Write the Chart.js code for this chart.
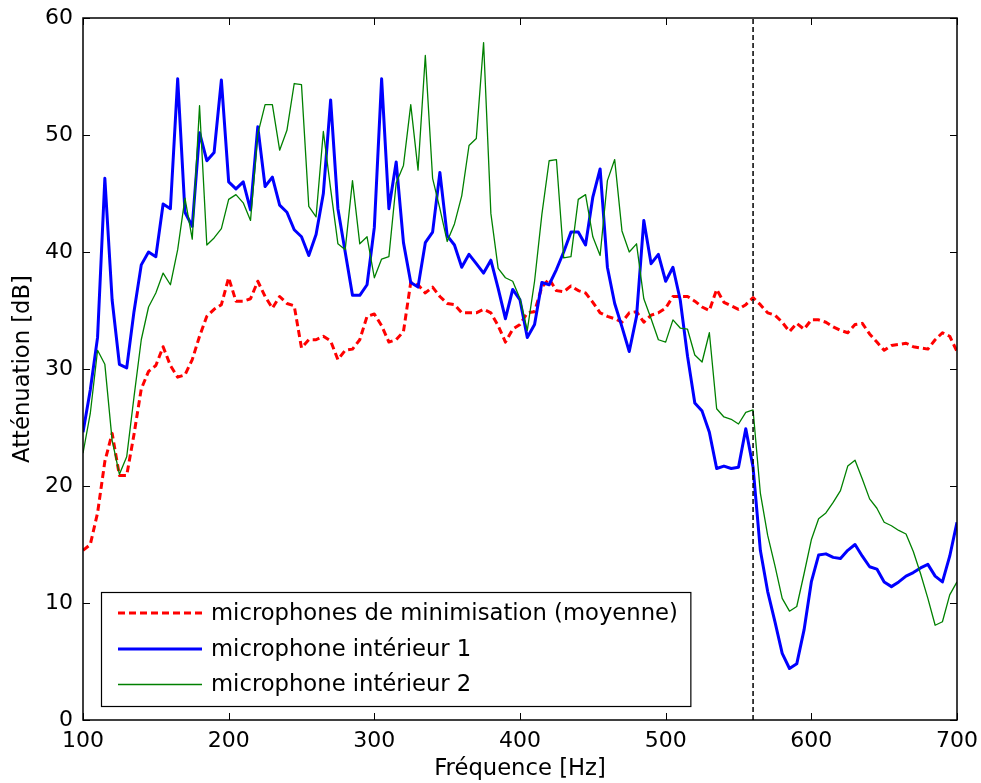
<!DOCTYPE html>
<html>
<head>
<meta charset="utf-8">
<script src="https://cdn.jsdelivr.net/npm/chart.js@4.4.1/dist/chart.umd.min.js"></script>
<style>
  html, body { margin: 0; padding: 0; background: #ffffff; }
  #wrap { width: 981px; height: 783px; position: relative; }
</style>
</head>
<body>
<div id="wrap"><canvas id="c" width="981" height="783"></canvas></div>
<script>
// ---- data ----
const freqs = [100,105,110,115,120,125,130,135,140,145,150,155,160,165,170,175,180,185,190,195,
  200,205,210,215,220,225,230,235,240,245,250,255,260,265,270,275,280,285,290,295,
  300,305,310,315,320,325,330,335,340,345,350,355,360,365,370,375,380,385,390,395,
  400,405,410,415,420,425,430,435,440,445,450,455,460,465,470,475,480,485,490,495,
  500,505,510,515,520,525,530,535,540,545,550,555,560,565,570,575,580,585,590,595,
  600,605,610,615,620,625,630,635,640,645,650,655,660,665,670,675,680,685,690,695,700];

const moyenne = [14.5,15.0,17.7,22.1,24.5,20.9,20.9,24.4,28.3,29.8,30.3,31.9,30.3,29.3,29.5,30.8,32.8,34.5,35.1,35.5,
  37.8,35.8,35.8,36.0,37.5,36.2,35.2,36.2,35.6,35.4,31.8,32.5,32.5,32.8,32.4,30.8,31.6,31.7,32.5,34.5,
  34.7,33.7,32.3,32.5,33.2,37.4,37.2,36.5,37.0,36.2,35.6,35.5,34.8,34.8,34.8,35.1,34.8,33.7,32.3,33.4,
  33.8,34.8,34.9,37.0,37.7,36.7,36.6,37.1,36.7,36.5,35.7,34.8,34.5,34.3,34.0,34.8,34.9,34.0,34.6,34.8,
  35.2,36.2,36.2,36.2,35.8,35.3,35.0,36.8,35.7,35.4,35.1,35.5,36.1,35.5,34.8,34.6,34.0,33.2,33.9,33.4,
  34.2,34.2,34.0,33.6,33.3,33.1,33.8,33.9,33.0,32.3,31.6,32.0,32.1,32.2,31.9,31.8,31.7,32.5,33.1,32.8,31.5];

const interieur1 = [24.6,28.2,32.7,46.3,35.9,30.4,30.1,34.9,38.9,40.0,39.6,44.1,43.7,54.8,43.4,42.2,50.2,47.8,48.5,54.7,
  46.0,45.4,46.0,43.6,50.7,45.6,46.4,44.0,43.4,41.9,41.3,39.7,41.5,45.0,53.0,43.7,40.0,36.3,36.3,37.2,
  42.1,54.8,43.7,47.7,40.8,37.4,37.0,40.8,41.7,46.8,41.4,40.6,38.7,39.8,39.0,38.2,39.3,36.9,34.3,36.8,
  35.9,32.7,33.8,37.4,37.2,38.5,40.0,41.7,41.7,40.6,44.7,47.1,38.7,35.6,33.6,31.5,34.5,42.7,39.0,39.8,
  37.5,38.7,35.9,31.1,27.1,26.4,24.6,21.5,21.7,21.5,21.6,24.9,21.6,14.5,11.0,8.4,5.7,4.4,4.8,7.7,
  11.8,14.1,14.2,13.9,13.8,14.5,15.0,14.0,13.1,12.9,11.8,11.4,11.8,12.3,12.6,13.0,13.3,12.3,11.8,14.0,16.9];

const interieur2 = [22.8,26.2,31.6,30.4,23.9,21.0,22.5,27.6,32.5,35.3,36.5,38.2,37.2,40.2,44.6,41.1,52.5,40.6,41.2,42.0,
  44.5,44.9,44.2,42.7,50.1,52.6,52.6,48.7,50.4,54.4,54.3,43.9,43.0,50.3,45.4,40.7,40.2,46.1,40.7,41.3,
  37.8,39.4,39.6,45.9,47.4,52.6,47.0,56.8,46.3,43.7,40.9,42.4,44.8,49.1,49.7,57.9,43.3,38.6,37.8,37.5,
  36.0,33.3,37.5,43.2,47.8,47.9,39.5,39.6,44.5,44.9,41.3,39.7,46.1,47.9,41.8,40.0,40.7,36.0,34.3,32.5,
  32.3,34.2,33.5,33.4,31.2,30.6,33.1,26.6,25.9,25.7,25.3,26.3,26.5,19.4,15.8,13.2,10.4,9.3,9.7,12.5,
  15.4,17.2,17.7,18.6,19.6,21.7,22.2,20.6,18.9,18.1,16.9,16.6,16.2,15.9,14.4,12.5,10.4,8.1,8.4,10.7,11.8];

const seriesLabels = ["microphones de minimisation (moyenne)", "microphone intérieur 1", "microphone intérieur 2"];
const markerFreq = [560];
const markerRange = [0, 60];
const xTickValues = [100, 200, 300, 400, 500, 600, 700];
const yTickValues = [0, 10, 20, 30, 40, 50, 60];
const xTickLabels = ["100", "200", "300", "400", "500", "600", "700"];
const yTickLabels = ["0", "10", "20", "30", "40", "50", "60"];
const xTitle = "Fréquence [Hz]";
const yTitle = "Atténuation [dB]";

// ---- chart ----
const FONT = "'DejaVu Sans', 'Liberation Sans', sans-serif";
const toXY = (vals) => freqs.map((f, i) => ({ x: f, y: vals[i] }));

const framePlugin = {
  id: 'framePlugin',
  afterDatasetsDraw(chart) {
    const ctx = chart.ctx;
    const a = chart.chartArea;
    const xs = chart.scales.x, ys = chart.scales.y;
    ctx.save();
    // inward ticks on all four sides
    ctx.strokeStyle = '#000';
    ctx.lineWidth = 1;
    const TL = 7;
    xTickValues.forEach(v => {
      const px = Math.round(xs.getPixelForValue(v)) + 0.5;
      ctx.beginPath();
      ctx.moveTo(px, a.bottom); ctx.lineTo(px, a.bottom - TL);
      ctx.moveTo(px, a.top); ctx.lineTo(px, a.top + TL);
      ctx.stroke();
    });
    yTickValues.forEach(v => {
      const py = Math.round(ys.getPixelForValue(v)) + 0.5;
      ctx.beginPath();
      ctx.moveTo(a.left, py); ctx.lineTo(a.left + TL, py);
      ctx.moveTo(a.right, py); ctx.lineTo(a.right - TL, py);
      ctx.stroke();
    });
    // frame
    ctx.lineWidth = 1.5;
    ctx.strokeRect(a.left, a.top, a.right - a.left, a.bottom - a.top);

    // tick labels
    ctx.fillStyle = '#000';
    ctx.font = '22px ' + FONT;
    ctx.textAlign = 'center';
    ctx.textBaseline = 'middle';
    xTickValues.forEach((v, i) => {
      ctx.fillText(xTickLabels[i], xs.getPixelForValue(v), a.bottom + 21);
    });
    ctx.textAlign = 'right';
    yTickValues.forEach((v, i) => {
      ctx.fillText(yTickLabels[i], a.left - 10, ys.getPixelForValue(v) + 0.5);
    });

    // legend
    const ds = chart.data.datasets.filter(d => !d.isMarker);
    ctx.font = '22.7px ' + FONT;
    let maxW = 0;
    ds.forEach(d => { maxW = Math.max(maxW, ctx.measureText(d.label).width); });
    const bx = 101.5, by = 592.5;
    const lineX0 = 118, lineX1 = 202, textX = 211;
    const rowY = [613, 649, 684.5];
    const bw = textX + maxW + 13 - bx;
    const bh = 114;
    ctx.fillStyle = '#fff';
    ctx.fillRect(bx, by, bw, bh);
    ctx.strokeStyle = '#000';
    ctx.lineWidth = 1.2;
    ctx.strokeRect(bx, by, bw, bh);
    ds.forEach((d, i) => {
      ctx.save();
      ctx.strokeStyle = d.borderColor;
      ctx.lineWidth = d.borderWidth;
      ctx.setLineDash(d.borderDash || []);
      ctx.beginPath();
      ctx.moveTo(lineX0, rowY[i]); ctx.lineTo(lineX1, rowY[i]);
      ctx.stroke();
      ctx.restore();
      ctx.fillStyle = '#000';
      ctx.textAlign = 'left';
      ctx.textBaseline = 'middle';
      ctx.fillText(d.label, textX, rowY[i] + 1);
    });

    // axis titles
    ctx.fillStyle = '#000';
    ctx.font = '22.7px ' + FONT;
    ctx.textAlign = 'center';
    ctx.textBaseline = 'middle';
    ctx.fillText(xTitle, (a.left + a.right) / 2, 769);
    ctx.save();
    ctx.translate(23, (a.top + a.bottom) / 2);
    ctx.rotate(-Math.PI / 2);
    ctx.fillText(yTitle, 0, 0);
    ctx.restore();
    ctx.restore();
  }
};

new Chart(document.getElementById('c'), {
  type: 'line',
  data: {
    datasets: [
      { label: seriesLabels[0], data: toXY(moyenne), borderColor: '#ff0000', borderWidth: 3,
        borderDash: [7, 4], order: 3 },
      { label: seriesLabels[1], data: toXY(interieur1), borderColor: '#0000ff', borderWidth: 3, order: 2 },
      { label: seriesLabels[2], data: toXY(interieur2), borderColor: '#008000', borderWidth: 1.3, order: 1 },
      { label: 'marker', isMarker: true,
        data: markerRange.map(v => ({ x: markerFreq[0], y: v })),
        borderColor: '#000', borderWidth: 1.5, borderDash: [5, 3], order: 0 }
    ]
  },
  options: {
    responsive: false,
    animation: false,
    devicePixelRatio: 1,
    layout: { padding: { left: 0, right: 24, top: 18, bottom: 0 } },
    elements: {
      point: { radius: 0 },
      line: { tension: 0, fill: false, borderJoinStyle: 'round', borderCapStyle: 'butt' }
    },
    plugins: { legend: { display: false }, tooltip: { enabled: false } },
    scales: {
      x: {
        type: 'linear', min: 100, max: 700,
        afterBuildTicks: s => { s.ticks = xTickValues.map(v => ({ value: v })); },
        afterFit: s => { s.height = 63; },
        grid: { display: false, drawTicks: false },
        border: { display: false },
        ticks: { display: false }
      },
      y: {
        type: 'linear', min: 0, max: 60,
        afterBuildTicks: s => { s.ticks = yTickValues.map(v => ({ value: v })); },
        afterFit: s => { s.width = 83; },
        grid: { display: false, drawTicks: false },
        border: { display: false },
        ticks: { display: false }
      }
    }
  },
  plugins: [framePlugin]
});
</script>
</body>
</html>
